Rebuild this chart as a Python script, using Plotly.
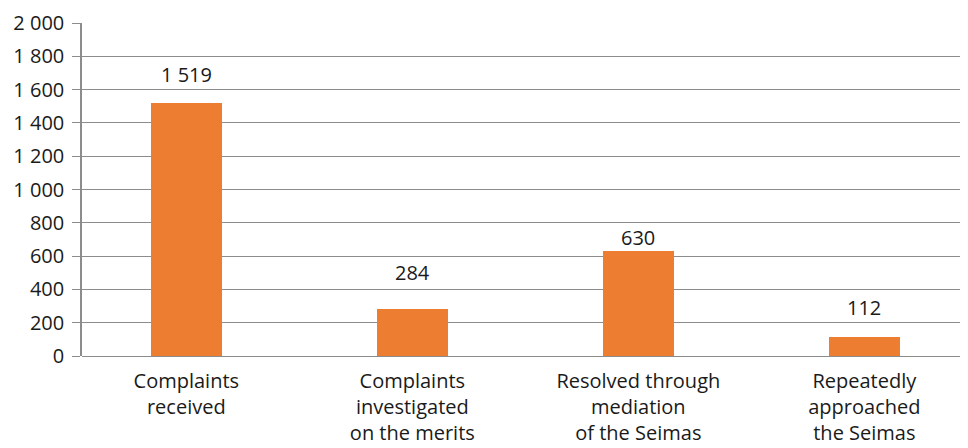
import plotly.graph_objects as go

categories = [
    "Complaints<br>received",
    "Complaints<br>investigated<br>on the merits",
    "Resolved through<br>mediation<br>of the Seimas",
    "Repeatedly<br>approached<br>the Seimas",
]
values = [1519, 284, 630, 112]
y_ticks = [0, 200, 400, 600, 800, 1000, 1200, 1400, 1600, 1800, 2000]

# label offsets above bar tops (px), as placed in the original
label_shift = [13, 21, -2, 14]

FONT = "Open Sans"
FS = 20
BAR = "#ED7D31"
GRID = "#8C8C8C"
TXT = "#1a1a1a"

x_idx = list(range(len(categories)))

fig = go.Figure()
fig.add_trace(go.Bar(
    x=x_idx, y=values, marker_color=BAR, width=0.313,
    marker_line_width=0, hoverinfo="skip",
))

for xi, v, s in zip(x_idx, values, label_shift):
    fig.add_annotation(
        x=xi, y=v, text=f"{v:,}".replace(",", " "), showarrow=False,
        yanchor="bottom", yshift=s,
        font=dict(family=FONT, size=FS, color=TXT),
    )

# page body has an 8px margin, so the figure is offset by 8px in the screenshot
fig.update_layout(
    width=968, height=448,
    margin=dict(l=74, r=0, t=15, b=100),
    paper_bgcolor="white", plot_bgcolor="white",
    separators=". ",
    showlegend=False,
    font=dict(family=FONT, size=FS, color=TXT),
    bargap=0,
)
fig.update_xaxes(
    range=[-0.4615, 3.494], automargin=False,
    tickmode="array", tickvals=x_idx, ticktext=categories,
    showgrid=False, showline=False, ticks="", zeroline=False,
    ticklabelstandoff=11,
    tickfont=dict(family=FONT, size=FS, color=TXT),
)
fig.update_yaxes(
    range=[0, 2000], automargin=False,
    tickmode="array", tickvals=y_ticks, tickformat=",d",
    showgrid=True, gridcolor=GRID, gridwidth=1,
    showline=True, linecolor=GRID, linewidth=1.5,
    ticks="outside", ticklen=8, tickcolor=GRID, tickwidth=1,
    zeroline=True, zerolinecolor=GRID, zerolinewidth=1,
    ticklabelstandoff=4,
    tickfont=dict(family=FONT, size=FS, color=TXT),
)

fig.write_html("out.html")
